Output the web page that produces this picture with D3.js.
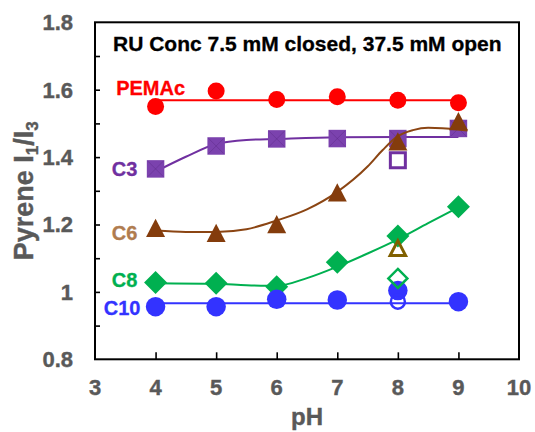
<!DOCTYPE html>
<html>
<head>
<meta charset="utf-8">
<script src="https://cdn.jsdelivr.net/npm/d3@7"></script>
<style>
  body { margin: 0; background: #fff; }
  svg { display: block; }
  text { font-family: "Liberation Sans", Arial, sans-serif; font-weight: bold; }
</style>
</head>
<body>
<div id="chart"></div>
<script>
// pH values at which I1/I3 was measured (7.5 mM, closed markers)
const pH = [4, 5, 6, 7, 8, 9];
const pemac = [1.550, 1.596, 1.571, 1.579, 1.569, 1.561];
const c3 = [1.365, 1.433, 1.454, 1.455, 1.455, 1.485];
const c6 = [1.190, 1.175, 1.201, 1.295, 1.447, 1.507];
const c8 = [1.028, 1.026, 1.015, 1.088, 1.166, 1.253];
const c10 = [0.956, 0.956, 0.978, 0.976, 1.004, 0.971];

// 37.5 mM measurements (open markers)
const openSeries = ["C3", "C6", "C8", "C10"];
const openPH = [8, 8, 8, 8];
const openValues = [1.391, 1.130, 1.040, 0.971];

// trend curves through each series, as [pH, I1/I3]
const pemacFit = [[4, 1.569], [9, 1.569]];
const c3Fit = [[4, 1.357], [4.5, 1.401], [5, 1.439], [5.5, 1.451], [6, 1.454], [7, 1.459], [8, 1.460], [9, 1.460]];
const c6Fit = [[4, 1.182], [4.5, 1.178], [5, 1.178], [5.5, 1.186], [6, 1.212], [6.5, 1.245], [7, 1.297],
               [7.5, 1.372], [7.75, 1.421], [8, 1.462], [8.25, 1.480], [8.5, 1.487], [9, 1.482], [9.15, 1.479]];
const c8Fit = [[4, 1.026], [5, 1.024], [5.5, 1.020], [6, 1.018], [6.5, 1.041], [7, 1.075], [7.5, 1.114],
               [8, 1.156], [8.5, 1.204], [9, 1.251]];
const c10Fit = [[4, 0.966], [9, 0.966]];

// axis ticks
const xTicks = [3, 4, 5, 6, 7, 8, 9, 10];
const yTickLabels = [0.8, 1, 1.2, 1.4, 1.6, 1.8];
const yAllTicks = [0.9, 1.0, 1.1, 1.2, 1.3, 1.4, 1.5, 1.6, 1.7];

// series labels placed in data units
const labelText = ["PEMAc", "C3", "C6", "C8", "C10"];
const labelPH = [3.35, 3.70, 3.70, 3.70, 3.75];
const labelVal = [1.585, 1.343, 1.155, 1.016, 0.930];

const W = 535, H = 432;
const margin = { left: 95, right: 16, top: 22.3, bottom: 72.7 };

const svg = d3.select("#chart").append("svg").attr("width", W).attr("height", H);

const x = d3.scaleLinear().domain([3, 10]).range([margin.left, W - margin.right]);
const y = d3.scaleLinear().domain([0.8, 1.8]).range([H - margin.bottom, margin.top]);

const grey = "#595959";

// frame
svg.append("rect")
  .attr("x", x(3)).attr("y", y(1.8))
  .attr("width", x(10) - x(3)).attr("height", y(0.8) - y(1.8))
  .attr("fill", "none").attr("stroke", "#000").attr("stroke-width", 2);

// inward tick marks
const xAxis = d3.axisBottom(x).tickValues(xTicks.slice(1, -1)).tickSize(-7).tickFormat("");
const gx = svg.append("g").attr("transform", `translate(0,${y(0.8)})`).call(xAxis);
gx.select(".domain").remove();
gx.selectAll("line").attr("stroke", "#000").attr("stroke-width", 1.6);

const yAxis = d3.axisLeft(y).tickValues(yAllTicks).tickSize(-5).tickFormat("");
const gy = svg.append("g").attr("transform", `translate(${x(3)},0)`).call(yAxis);
gy.select(".domain").remove();
gy.selectAll("line").attr("stroke", "#000").attr("stroke-width", 1.6);

// tick labels
svg.append("g").selectAll("text").data(xTicks).join("text")
  .attr("x", d => x(d)).attr("y", 395)
  .attr("text-anchor", "middle").attr("font-size", 22).attr("fill", grey)
  .attr("stroke", grey).attr("stroke-width", 0.4)
  .text(d => d);

svg.append("g").selectAll("text").data(yTickLabels).join("text")
  .attr("x", 73).attr("y", d => y(d)).attr("dy", "0.36em")
  .attr("text-anchor", "end").attr("font-size", 22).attr("fill", grey)
  .attr("stroke", grey).attr("stroke-width", 0.4)
  .text(d => d3.format("")(d));

// axis titles
svg.append("text")
  .attr("x", (x(3) + x(10)) / 2).attr("y", 425)
  .attr("text-anchor", "middle").attr("font-size", 24).attr("fill", grey)
  .attr("stroke", grey).attr("stroke-width", 0.4)
  .text("pH");

const yt = svg.append("text")
  .attr("transform", `translate(33,${(y(0.8) + y(1.8)) / 2}) rotate(-90)`)
  .attr("text-anchor", "middle").attr("font-size", 27).attr("fill", grey)
  .attr("stroke", grey).attr("stroke-width", 0.4);
yt.append("tspan").text("Pyrene I");
yt.append("tspan").attr("font-size", 17).attr("dy", 5).text("1");
yt.append("tspan").attr("dy", -5).text("/I");
yt.append("tspan").attr("font-size", 17).attr("dy", 5).text("3");

// heading inside the frame
svg.append("text")
  .attr("x", 113).attr("y", 50.5)
  .attr("font-size", 21).attr("fill", "#000")
  .attr("stroke", "#000").attr("stroke-width", 0.3)
  .text("RU Conc 7.5 mM closed, 37.5 mM open");

// marker shapes, centred on their bounding box
const shapes = {
  circle: s => `M${s/2},0A${s/2},${s/2} 0 1,1 ${-s/2},0A${s/2},${s/2} 0 1,1 ${s/2},0Z`,
  square: s => `M${-s/2},${-s/2}H${s/2}V${s/2}H${-s/2}Z`,
  triangle: s => `M0,${-s*0.48}L${s/2},${s*0.48}L${-s/2},${s*0.48}Z`,
  diamond: s => `M0,${-s/2}L${s/2},0L0,${s/2}L${-s/2},0Z`
};

const series = [
  { name: "PEMAc", values: pemac, fit: pemacFit, color: "#FF0000", lineColor: "#FF0000", shape: "circle", size: 17, labelColor: "#FF0000", curve: d3.curveLinear },
  { name: "C3", values: c3, fit: c3Fit, color: "#7B42AE", lineColor: "#7030A0", shape: "square", size: 17.5, labelColor: "#7030A0", curve: d3.curveMonotoneX, cross: true },
  { name: "C6", values: c6, fit: c6Fit, color: "#843C0C", lineColor: "#8B4513", shape: "triangle", size: 19, labelColor: "#B07C4F", curve: d3.curveMonotoneX },
  { name: "C8", values: c8, fit: c8Fit, color: "#00B050", lineColor: "#00B050", shape: "diamond", size: 23, labelColor: "#00B050", curve: d3.curveMonotoneX },
  { name: "C10", values: c10, fit: c10Fit, color: "#3333FF", lineColor: "#3333FF", shape: "circle", size: 19.5, labelColor: "#3333FF", curve: d3.curveLinear }
];

const line = d3.line().x(d => x(d[0])).y(d => y(d[1]));

series.forEach(s => {
  const g = svg.append("g");
  g.append("path")
    .attr("d", line.curve(s.curve)(s.fit))
    .attr("fill", "none").attr("stroke", s.lineColor).attr("stroke-width", 2);
  const pts = pH.map((p, i) => [p, s.values[i]]);
  const m = g.selectAll("g.pt").data(pts).join("g")
    .attr("transform", d => `translate(${x(d[0])},${y(d[1])})`);
  m.append("path").attr("d", shapes[s.shape](s.size)).attr("fill", s.color);
  if (s.cross) {
    const h = s.size / 2 - 1;
    m.append("path").attr("d", `M${-h},${-h}L${h},${h}M${h},${-h}L${-h},${h}`)
      .attr("stroke", "#4b1f75").attr("stroke-opacity", 0.3).attr("stroke-width", 1);
  }
});

// open markers
const openStyle = {
  C3: { shape: "square", size: 15, color: "#7030A0", width: 3 },
  C6: { shape: "triangle", size: 15.5, color: "#806000", width: 3 },
  C8: { shape: "diamond", size: 19, color: "#00B050", width: 2.5 },
  C10: { shape: "circle", size: 14, color: "#3333FF", width: 2.5 }
};
svg.append("g").selectAll("path").data(openSeries.map((n, i) => [n, openPH[i], openValues[i]])).join("path")
  .attr("transform", d => `translate(${x(d[1])},${y(d[2])})`)
  .attr("d", d => shapes[openStyle[d[0]].shape](openStyle[d[0]].size))
  .attr("fill", "none")
  .attr("stroke", d => openStyle[d[0]].color)
  .attr("stroke-width", d => openStyle[d[0]].width);

// series labels
svg.append("g").selectAll("text").data(labelText).join("text")
  .attr("x", (d, i) => x(labelPH[i])).attr("y", (d, i) => y(labelVal[i]))
  .attr("text-anchor", (d, i) => i === 0 ? "start" : "end")
  .attr("font-size", 20)
  .attr("fill", (d, i) => series[i].labelColor)
  .attr("stroke", (d, i) => series[i].labelColor).attr("stroke-width", 0.3)
  .text(d => d);
</script>
</body>
</html>
